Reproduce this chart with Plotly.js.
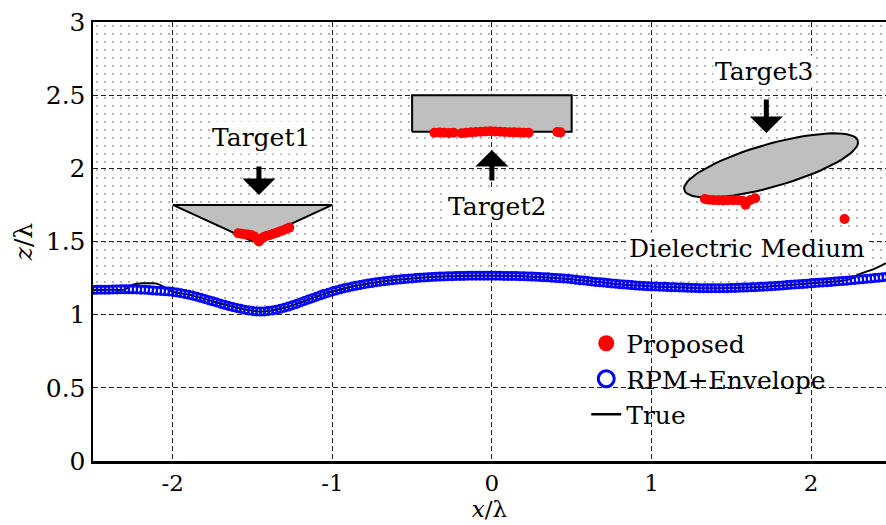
<!DOCTYPE html>
<html><head><meta charset="utf-8">
<script src="https://cdn.plot.ly/plotly-3.0.1.min.js"></script>
<style>html,body{margin:0;padding:0;background:#fff;overflow:hidden}#chart{width:886px;height:525px}
#chart text{font-family:"DejaVu Serif","Liberation Serif",serif !important;}</style>
</head><body><div id="chart"></div>
<script>
// ---- RPM+Envelope reconstructed surface (blue open circles) ----
const rpmX = [
-2.500,-2.475,-2.450,-2.425,-2.400,-2.375,-2.350,-2.325,-2.300,-2.275,-2.250,-2.225,-2.200,-2.175,-2.150,-2.125,-2.100,-2.075,-2.050,-2.025,
-2.000,-1.975,-1.950,-1.925,-1.900,-1.875,-1.850,-1.825,-1.800,-1.775,-1.750,-1.725,-1.700,-1.675,-1.650,-1.625,-1.600,-1.575,-1.550,-1.525,
-1.500,-1.475,-1.450,-1.425,-1.400,-1.375,-1.350,-1.325,-1.300,-1.275,-1.250,-1.225,-1.200,-1.175,-1.150,-1.125,-1.100,-1.075,-1.050,-1.025,
-1.000,-0.975,-0.950,-0.925,-0.900,-0.875,-0.850,-0.825,-0.800,-0.775,-0.750,-0.725,-0.700,-0.675,-0.650,-0.625,-0.600,-0.575,-0.550,-0.525,
-0.500,-0.475,-0.450,-0.425,-0.400,-0.375,-0.350,-0.325,-0.300,-0.275,-0.250,-0.225,-0.200,-0.175,-0.150,-0.125,-0.100,-0.075,-0.050,-0.025,
0.000,0.025,0.050,0.075,0.100,0.125,0.150,0.175,0.200,0.225,0.250,0.275,0.300,0.325,0.350,0.375,0.400,0.425,0.450,0.475,
0.500,0.525,0.550,0.575,0.600,0.625,0.650,0.675,0.700,0.725,0.750,0.775,0.800,0.825,0.850,0.875,0.900,0.925,0.950,0.975,
1.000,1.025,1.050,1.075,1.100,1.125,1.150,1.175,1.200,1.225,1.250,1.275,1.300,1.325,1.350,1.375,1.400,1.425,1.450,1.475,
1.500,1.525,1.550,1.575,1.600,1.625,1.650,1.675,1.700,1.725,1.750,1.775,1.800,1.825,1.850,1.875,1.900,1.925,1.950,1.975,
2.000,2.025,2.050,2.075,2.100,2.125,2.150,2.175,2.200,2.225,2.250,2.275,2.300,2.325,2.350,2.375,2.400,2.425,2.450,2.475];
const rpmZ = [
1.169,1.170,1.170,1.171,1.171,1.172,1.172,1.173,1.173,1.173,1.173,1.172,1.171,1.170,1.168,1.166,1.164,1.162,1.160,1.158,
1.155,1.151,1.147,1.142,1.136,1.130,1.123,1.115,1.107,1.099,1.091,1.083,1.075,1.067,1.060,1.053,1.046,1.040,1.034,1.029,
1.025,1.022,1.021,1.022,1.025,1.029,1.034,1.040,1.047,1.055,1.064,1.073,1.083,1.093,1.103,1.113,1.123,1.132,1.141,1.150,
1.158,1.166,1.173,1.180,1.186,1.192,1.198,1.203,1.208,1.213,1.217,1.221,1.225,1.229,1.232,1.235,1.238,1.241,1.243,1.246,
1.248,1.250,1.252,1.254,1.256,1.258,1.259,1.260,1.261,1.262,1.263,1.264,1.265,1.265,1.266,1.266,1.266,1.266,1.266,1.266,
1.266,1.266,1.266,1.265,1.265,1.264,1.264,1.263,1.262,1.261,1.260,1.259,1.258,1.256,1.255,1.253,1.251,1.249,1.247,1.245,
1.242,1.239,1.236,1.233,1.230,1.227,1.224,1.222,1.219,1.216,1.213,1.211,1.208,1.206,1.204,1.202,1.200,1.198,1.196,1.195,
1.193,1.192,1.191,1.190,1.189,1.188,1.187,1.186,1.185,1.184,1.183,1.182,1.181,1.181,1.180,1.180,1.180,1.180,1.181,1.181,
1.182,1.183,1.184,1.185,1.186,1.187,1.188,1.190,1.191,1.193,1.195,1.196,1.198,1.200,1.202,1.204,1.206,1.208,1.210,1.212,
1.214,1.216,1.218,1.220,1.222,1.224,1.226,1.228,1.230,1.232,1.235,1.237,1.240,1.242,1.245,1.247,1.250,1.253,1.256,1.259];

// ---- True surface (black line) ----
const trueX = [-2.5,-2.4,-2.3,-2.25,-2.2,-2.15,-2.1,-2.05,-2.0,-1.9,-1.8,-1.7,-1.6,-1.5,-1.45,-1.4,-1.3,-1.2,-1.1,-1.0,-0.9,-0.8,-0.7,-0.6,-0.5,-0.4,-0.3,-0.2,-0.1,0,0.1,0.2,0.3,0.4,0.5,0.6,0.7,0.8,0.9,1.0,1.1,1.2,1.3,1.4,1.5,1.6,1.7,1.8,1.9,2.0,2.1,2.2,2.25,2.3,2.4,2.47];
const trueZ = [1.169,1.171,1.173,1.205,1.214,1.214,1.212,1.185,1.157,1.137,1.108,1.076,1.047,1.026,1.021,1.025,1.047,1.083,1.123,1.158,1.186,1.208,1.225,1.238,1.248,1.256,1.261,1.265,1.266,1.266,1.265,1.262,1.258,1.251,1.242,1.230,1.219,1.208,1.200,1.193,1.189,1.185,1.181,1.180,1.182,1.186,1.191,1.198,1.206,1.214,1.222,1.232,1.245,1.275,1.315,1.352];

// ---- True targets ----
const target1X = [-2.0,-1.0,-1.5,-2.0];
const target1Z = [1.75,1.75,1.50,1.75];
const target2X = [-0.5,0.5,0.5,-0.5,-0.5];
const target2Z = [2.25,2.25,2.5,2.5,2.25];
// ellipse: centre x, centre z, semi-major, semi-minor, tilt (deg)
const target3Ellipse = [1.75,2.02,0.57,0.145,17.4];

// ---- Proposed reconstruction (red dots) ----
const propX = [-1.59,-1.57,-1.55,-1.53,-1.51,-1.49,-1.47,-1.46,-1.45,-1.43,-1.41,-1.39,-1.37,-1.35,-1.33,-1.31,-1.29,-1.27,
 -0.36,-0.33,-0.30,-0.27,-0.24,-0.19,-0.16,-0.13,-0.10,-0.07,-0.04,-0.01,0.02,0.05,0.08,0.11,0.14,0.17,0.20,0.23,0.41,0.43,
 1.335,1.36,1.39,1.42,1.45,1.48,1.51,1.54,1.57,1.59,1.62,1.65,2.21];
const propZ = [1.556,1.553,1.550,1.548,1.545,1.535,1.515,1.500,1.515,1.530,1.540,1.545,1.553,1.560,1.568,1.576,1.585,1.595,
 2.243,2.245,2.243,2.242,2.244,2.240,2.243,2.246,2.248,2.250,2.252,2.253,2.252,2.250,2.248,2.247,2.246,2.245,2.244,2.243,2.248,2.246,
 1.790,1.786,1.783,1.782,1.781,1.782,1.782,1.783,1.778,1.752,1.784,1.795,1.654];

// labels
const legendNames = ['Proposed','RPM+Envelope','True'];
const targetLabels = ['Target1','Target2','Target3','Dielectric Medium'];
const xTickVals = [-2,-1,0,1,2];
const xTickText = ['-2','-1','0','1','2'];
const yTickVals = [0,0.5,1,1.5,2,2.5,3];
const yTickText = ['0','0.5','1','1.5','2','2.5','3'];

const FONT = 'DejaVu Serif';

// ellipse outline
const eX = [], eZ = [];
(function(){
  const [cx,cz,a,b,deg] = target3Ellipse; const t = deg*Math.PI/180;
  for (let i=0;i<=72;i++){ const p=2*Math.PI*i/72;
    eX.push(cx + a*Math.cos(p)*Math.cos(t) - b*Math.sin(p)*Math.sin(t));
    eZ.push(cz + a*Math.cos(p)*Math.sin(t) + b*Math.sin(p)*Math.cos(t)); }
})();

const targetFill = {shape:'|', size:2, solidity:0.4, fgcolor:'#8a8a8a', bgcolor:'#e2e2e2'};

const traces = [
  {x: trueX.concat([2.47,-2.5]), y: trueZ.concat([3,3]), mode:'none', fill:'toself',
   fillcolor:'rgba(0,0,0,0)', fillpattern:{shape:'.', size:8, solidity:0.025, fgcolor:'#444', bgcolor:'rgba(0,0,0,0)'},
   showlegend:false, hoverinfo:'skip'},
  {x: target1X, y: target1Z, mode:'lines', fill:'toself', fillcolor:'#d8d8d8', fillpattern:targetFill,
   line:{color:'#000', width:2}, showlegend:false},
  {x: target2X, y: target2Z, mode:'lines', fill:'toself', fillcolor:'#d8d8d8', fillpattern:targetFill,
   line:{color:'#000', width:2}, showlegend:false},
  {x: eX, y: eZ, mode:'lines', fill:'toself', fillcolor:'#d8d8d8', fillpattern:targetFill,
   line:{color:'#000', width:2}, showlegend:false},
  {x: trueX, y: trueZ, mode:'lines', line:{color:'#000', width:2, shape:'spline'}, showlegend:false},
  {x: rpmX, y: rpmZ, mode:'markers', marker:{symbol:'circle-open', size:8, color:'#0000ff', line:{width:2}}, showlegend:false},
  {x: propX, y: propZ, mode:'markers', marker:{symbol:'circle', size:10, color:'#ff0000'}, showlegend:false},
  // legend entries
  {x:[null], y:[null], name: legendNames[0], mode:'markers', marker:{symbol:'circle', size:16, color:'#ff0000'}},
  {x:[null], y:[null], name: legendNames[1], mode:'markers', marker:{symbol:'circle-open', size:16, color:'#0000ff', line:{width:3}}},
  {x:[null], y:[null], name: legendNames[2], mode:'lines', line:{color:'#000', width:2.5}}
];

const arrow = (x, y, ay) => ({x, y, xref:'x', yref:'y', text:'', showarrow:true, ax:0, ay,
  arrowhead:1, arrowsize:1.1, arrowwidth:5, arrowcolor:'#000'});
const label = (text, x, y) => ({x, y, xref:'x', yref:'y', text, showarrow:false, bgcolor:'#fff',
  font:{family:FONT, size:25, color:'#000'}, xanchor:'center', yanchor:'middle', borderpad:1});

const layout = {
  width:886, height:525,
  margin:{l:93, r:0, t:22, b:64},
  paper_bgcolor:'#fff', plot_bgcolor:'#fff',
  font:{family:FONT, size:25, color:'#000'},
  showlegend:true,
  legend:{x:0.622, y:0.32, xanchor:'left', yanchor:'top', bgcolor:'rgba(0,0,0,0)',
          font:{family:FONT, size:25, color:'#000'}, traceorder:'normal', tracegroupgap:0},
  xaxis:{range:[-2.5,2.47], tickvals:xTickVals, ticktext:xTickText,
         showgrid:true, gridcolor:'#222', griddash:'5px,3px', gridwidth:1, zeroline:false,
         showline:true, linecolor:'#000', linewidth:2.5, mirror:true, ticks:'',
         tickfont:{family:FONT, size:23, color:'#000'},
         title:{text:'<i>x</i>/λ', font:{family:FONT, size:23, color:'#000'}, standoff:5}},
  yaxis:{range:[0,3], tickvals:yTickVals, ticktext:yTickText,
         showgrid:true, gridcolor:'#222', griddash:'5px,3px', gridwidth:1, zeroline:false,
         showline:true, linecolor:'#000', linewidth:2.5, mirror:true, ticks:'',
         tickfont:{family:FONT, size:25, color:'#000'},
         title:{text:'<i>z</i>/λ', font:{family:FONT, size:25, color:'#000'}, standoff:6}},
  annotations:[
    label(targetLabels[0], -1.448, 2.214),
    label(targetLabels[1], 0.03, 1.736),
    label(targetLabels[2], 1.705, 2.665),
    label(targetLabels[3], 1.599, 1.449),
    arrow(-1.46, 1.818, -30),
    arrow(0.0, 2.125, 32),
    arrow(1.72, 2.241, -35)
  ]
};

Plotly.newPlot('chart', traces, layout, {displayModeBar:false, staticPlot:true});
</script></body></html>
